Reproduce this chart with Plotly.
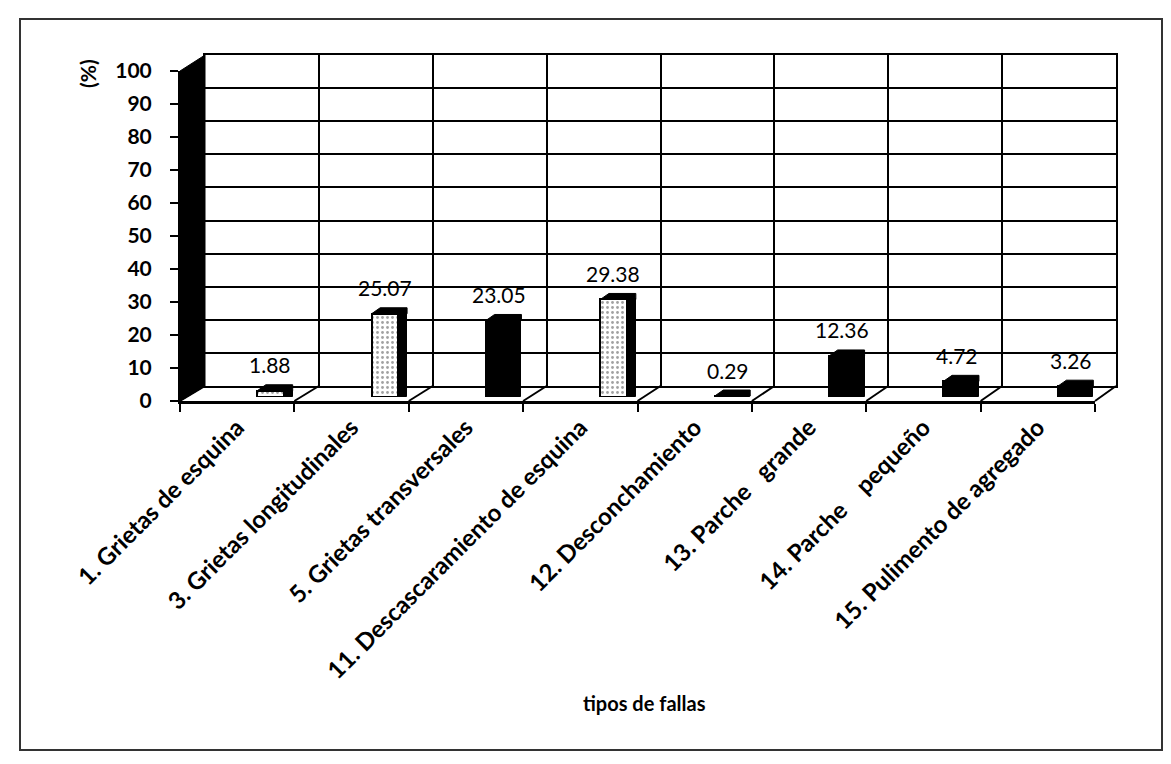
import plotly.graph_objects as go

# ---------------- data ----------------
categorias = [
    "1. Grietas de esquina",
    "3. Grietas longitudinales",
    "5. Grietas transversales",
    "11. Descascaramiento de esquina",
    "12. Desconchamiento",
    "13. Parche\u00a0\u00a0\u00a0grande",
    "14. Parche\u00a0\u00a0\u00a0\u00a0pequeño",
    "15. Pulimento de agregado",
]
porcentajes = [1.88, 25.07, 23.05, 29.38, 0.29, 12.36, 4.72, 3.26]
punteado = [True, True, False, True, False, False, False, False]
y_ticks = [0, 10, 20, 30, 40, 50, 60, 70, 80, 90, 100]
titulo_x = "tipos de fallas"
titulo_y = "(%)"

# ---------------- layout geometry (pixels) ----------------
FW, FH = 1171, 764
L, R, T, B = 172, 1108, 47, 393          # plot area
W, H = R - L, B - T
FX0, FX1 = 172, 1087                      # front axis x extent
FY100 = 63                                # front axis y of 100
BX0, BX1 = 197, 1108                      # back wall x extent
BY0 = 378                                 # back wall y of 0
BARY0, BARY100 = 389, 57                  # bar scale

BAR_OFF, BAR_W, SIDE_W = 0.175, 0.235, 0.075
CAT_PX = (FX1 - FX0) / len(categorias)
FACE_PX = BAR_W * CAT_PX
SIDE_PX = SIDE_W * CAT_PX
CAP_PX = 6


def px(x):
    return (x - L) / W


def py(y):
    return (B - y) / H


FONT = "Lato"
n = len(categorias)

fig = go.Figure()

fig.add_trace(go.Scatter(x=[None], y=[None], xaxis="x", yaxis="y",
                         showlegend=False, hoverinfo="skip"))
fig.add_trace(go.Scatter(x=[None], y=[None], xaxis="x2", yaxis="y2",
                         showlegend=False, hoverinfo="skip"))

# bar front faces
fig.add_trace(go.Bar(
    x=categorias, y=porcentajes, xaxis="x2", yaxis="y3",
    offset=BAR_OFF, width=BAR_W,
    marker=dict(
        color=["white" if p else "black" for p in punteado],
        line=dict(color="black", width=2),
        pattern=dict(shape=["." if p else "" for p in punteado],
                     fillmode="overlay", fgcolor="#222", size=5, solidity=0.25),
    ),
    showlegend=False, hoverinfo="skip",
))
# bar right sides (3D shading)
fig.add_trace(go.Bar(
    x=categorias, y=porcentajes, xaxis="x2", yaxis="y3",
    offset=BAR_OFF + BAR_W, width=SIDE_W,
    marker=dict(color="black", line=dict(color="black", width=1)),
    showlegend=False, hoverinfo="skip",
))

annotations = []
shapes = []

# bar tops (3D caps) and value labels
for i, v in enumerate(porcentajes):
    shapes.append(dict(
        type="path", xref="x2", yref="y3",
        xsizemode="pixel", ysizemode="pixel",
        xanchor=i + BAR_OFF, yanchor=v,
        path=(f"M 0,0 L {SIDE_PX:.1f},{CAP_PX} L {FACE_PX + SIDE_PX:.1f},{CAP_PX} "
              f"L {FACE_PX + SIDE_PX:.1f},0 Z"),
        fillcolor="black", line=dict(color="black", width=1), layer="above",
    ))
    annotations.append(dict(
        x=i + 0.29, y=v, xref="x2", yref="y3", text=f"{v:.2f}",
        showarrow=False, xanchor="center", yanchor="middle", yshift=26,
        font=dict(family=FONT, size=21, color="black"),
    ))

annotations.append(dict(
    x=px(80), y=py(66), xref="paper", yref="paper", text=titulo_y,
    showarrow=False, textangle=-90, xanchor="center", yanchor="middle",
    font=dict(family=FONT, size=21, color="black", weight="bold"),
))
annotations.append(dict(
    x=px(636), y=py(695), xref="paper", yref="paper", text=titulo_x,
    showarrow=False, xanchor="center", yanchor="middle",
    font=dict(family=FONT, size=20, color="black", weight="bold"),
))

# outer frame
shapes.append(dict(type="rect", xref="paper", yref="paper",
                   x0=px(12), x1=px(1154), y0=py(11), y1=py(742),
                   line=dict(color="#333", width=2), layer="below"))
# left side wall
shapes.append(dict(type="path", xref="paper", yref="paper",
                   path=f"M {px(FX0)} {py(B)} L {px(FX0)} {py(FY100)} "
                        f"L {px(BX0)} {py(T)} L {px(BX0)} {py(BY0)} Z",
                   fillcolor="black", line=dict(color="black", width=1),
                   layer="below"))
# floor lines
for i in range(n + 1):
    fx = FX0 + i * (FX1 - FX0) / n
    bx = BX0 + i * (BX1 - BX0) / n
    shapes.append(dict(type="line", xref="paper", yref="paper",
                       x0=px(fx), y0=py(B), x1=px(bx), y1=py(BY0),
                       line=dict(color="black", width=2), layer="below"))

fig.update_layout(
    width=FW, height=FH,
    margin=dict(l=L, r=FW - R, t=T, b=FH - B, pad=0),
    paper_bgcolor="white", plot_bgcolor="rgba(0,0,0,0)",
    showlegend=False, bargap=0, barmode="overlay",
    annotations=annotations, shapes=shapes,
    # back wall
    xaxis=dict(domain=[px(BX0), px(BX1)], range=[0, n], dtick=1, tick0=0,
               showgrid=True, gridcolor="black", gridwidth=2,
               showticklabels=False, ticks="", zeroline=False,
               showline=True, mirror=True, linecolor="black", linewidth=2,
               anchor="y", fixedrange=True),
    yaxis=dict(domain=[py(BY0), 1], range=[0, 100], dtick=10, tick0=0,
               showgrid=True, gridcolor="black", gridwidth=2,
               showticklabels=False, ticks="", zeroline=False,
               showline=True, mirror=True, linecolor="black", linewidth=2,
               anchor="x", fixedrange=True),
    # front axes
    xaxis2=dict(domain=[px(FX0), px(FX1)], type="category",
                range=[-0.5, n - 0.5], tickson="boundaries",
                ticks="outside", ticklen=8, tickwidth=2, tickcolor="black",
                showline=True, linecolor="black", linewidth=3,
                showgrid=False, zeroline=False, tickangle=-45,
                tickfont=dict(family=FONT, size=24, color="black", weight="bold"),
                anchor="y2", fixedrange=True),
    yaxis2=dict(domain=[0, py(FY100)], range=[0, 100], tickvals=y_ticks,
                ticks="outside", ticklen=8, tickwidth=2, tickcolor="black",
                ticklabelstandoff=14,
                showline=True, linecolor="black", linewidth=2,
                showgrid=False, zeroline=False,
                tickfont=dict(family=FONT, size=21, color="black", weight="bold"),
                anchor="x2", fixedrange=True),
    yaxis3=dict(domain=[py(BARY0), py(BARY100)], range=[0, 100],
                visible=False, anchor="x2", fixedrange=True),
)

fig.write_html("out.html")
